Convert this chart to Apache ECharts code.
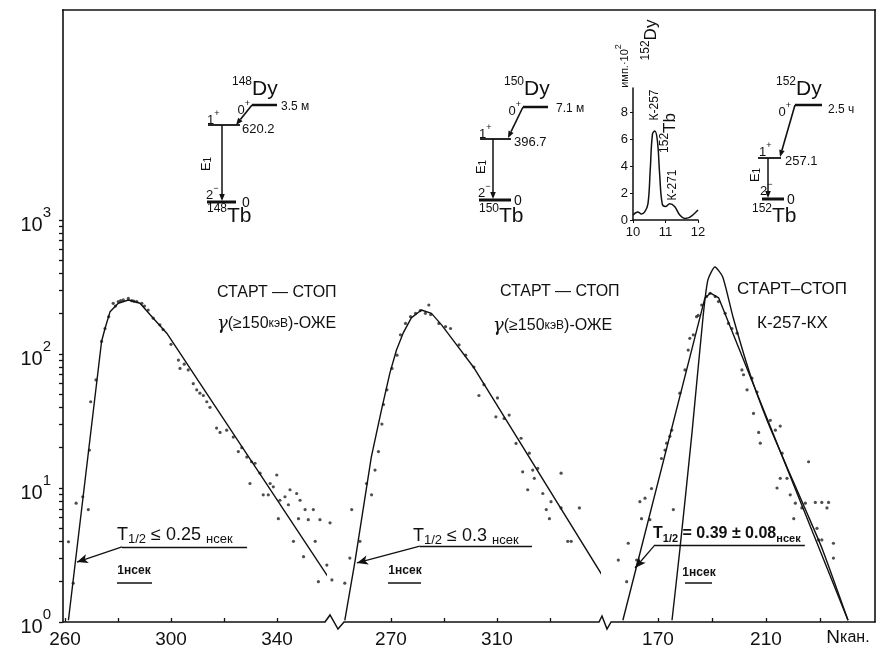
<!DOCTYPE html>
<html><head><meta charset="utf-8">
<script src="https://cdn.jsdelivr.net/npm/echarts@6/dist/echarts.min.js"></script>
<style>html,body{margin:0;padding:0;background:#fff}#c{width:884px;height:650px}</style>
</head><body><div id="c"></div>
<script>
// ---------- data ----------
const yTickValues = [1,2,3,4,5,6,7,8,9,10,20,30,40,50,60,70,80,90,100,200,300,400,500,600,700,800,900,1000];
const yLabelValues = [1,10,100,1000];
const p1TickValues = [260,280,300,320,340];
const p1LabelValues = [260,300,340];
const p2TickValues = [270,290,310,330];
const p2LabelValues = [270,310];
const p3TickValues = [170,190,210,230];
const p3LabelValues = [170,210];
const insetXValues = [10,11,12];
const insetYValues = [0,2,4,6,8];

const p1Fit = [[261.3,1.03],[273.8,124],[275.1,155],[277,207],[280.1,239],[283.9,253],[288.3,239],[293.3,185],[298.4,143],[360,2.06]];
const p1Dots = [[263.1,1.95],[261.3,3.97],[264.2,7.7],[266.7,8.6],[268.8,6.9],[269.2,19.2],[269.7,44],[271.7,64],[273.8,124],[275.1,155],[276.5,190],[278.2,239],[279,228],[280.1,246],[281,250],[282,253],[283.9,260],[285.2,250],[286,248],[287.1,246],[289,239],[290,228],[291.4,213],[293.3,185],[295.8,165],[297,152],[300,118],[302.8,90],[303.4,78],[305,84],[306.5,76],[308.4,60],[309.7,54],[310.9,51],[312.2,49],[313.5,44],[314.7,40],[317.2,28],[318.5,26],[321,27],[323.5,24],[325.4,18.7],[326.7,20],[328.6,17],[330.4,15.7],[331.7,15.3],[329.8,10.8],[333.6,12.9],[334.8,8.9],[336.7,8.9],[337.4,10.8],[339.9,12.5],[338.6,10.2],[341.1,8.1],[343,8.6],[344.9,9.7],[347.4,9.1],[348.7,8.1],[340.5,5.9],[344.3,7.5],[348.1,5.9],[350.6,6.9],[351.8,5.8],[353.7,6.9],[356.2,5.8],[360,5.5],[346.2,4.0],[350,3.07],[354.4,4.0],[355.6,2.0],[358.8,2.66],[360.7,2.06]];

const p2Fit = [[252.6,1.03],[256.4,2.8],[259.5,6.9],[262.6,17],[266.4,38],[269.6,72],[272.1,107],[274.6,143],[277.7,186],[281.5,213],[285.3,201],[289.1,165],[294.8,117],[301.1,80],[350.8,2.06]];
const p2Dots = [[252.6,1.95],[255.2,6.9],[254.5,3.0],[258.3,4.0],[260.8,10.8],[262.7,8.9],[264,13.6],[265.3,18.7],[266.6,30],[267.2,42],[268.5,54],[270.4,78],[272.3,98],[273.6,139],[275.5,169],[277.4,190],[279.3,201],[281.1,211],[283,201],[284.3,232],[285,197],[288.1,169],[290.6,160],[292.5,155],[295.7,117],[298.2,98],[301.3,80],[303.2,49],[305.1,59],[310.2,47],[309.6,34],[312.7,33],[314.6,35],[317.2,21.5],[319.1,23.5],[321.6,9.7],[319.7,13.2],[322.2,18.2],[323.5,13.6],[324.1,11.8],[325.4,14],[327.3,9.1],[328.6,6.9],[329.8,5.9],[330.4,7.9],[334.2,12.9],[334.2,7.1],[341.1,7.1],[336.7,4.0],[338,4.0]];

const p3FitA = [[157,1.03],[187.4,262],[189.5,285],[192.5,262],[240.4,1.03]];
const p3FitB = [[175.2,1.03],[178.1,3.45],[182.6,25.8],[186.7,189],[188.5,357],[191.1,446],[194,376],[197.8,189],[204,72],[210.4,32],[217.8,14.3],[225.2,6.5],[231,3.45],[240.4,1.03]];
const p3Dots = [[159,3.87],[155.3,2.9],[158.4,2.0],[162.1,2.9],[167,5.8],[163.3,7.9],[165.2,8.4],[163.9,5.9],[167.6,9.9],[171.3,16.6],[172.6,19.2],[173.2,21.6],[174.4,24.3],[175.1,27],[175.7,6.9],[178.1,51],[180,76],[181.2,107],[181.8,131],[183.1,139],[184.3,190],[184.9,194],[186.2,232],[188,268],[189.3,284],[191.2,268],[192.4,246],[194.9,201],[196.1,169],[197.4,155],[199.3,143],[201.1,76],[201.7,70],[203,54],[204.8,66],[205.4,36],[206.7,52],[207.3,26],[207.9,21.6],[211.6,32],[213.5,27],[215.3,29],[216,18.2],[215.3,11.8],[214.1,10],[217.8,11.8],[219,8.9],[220.9,7.7],[220.3,5.9],[223.3,7.1],[225.8,15.7],[224.6,7.7],[228.3,7.8],[230.7,7.8],[233.2,7.8],[232.6,7.1],[229.5,4.1],[230.7,4.1],[235,3.87],[235,3.0],[228.9,5.0]];

const insetSpectrum = [[10.0,0.37],[10.15,0.6],[10.26,0.45],[10.36,0.6],[10.46,1.2],[10.53,3.7],[10.6,6.4],[10.67,6.6],[10.75,5.9],[10.82,3.4],[10.9,1.2],[11.0,1.0],[11.13,1.2],[11.28,1.0],[11.44,0.37],[11.59,0.12],[11.74,0.2],[11.9,0.5],[12.0,0.74]];

const p1Arrow = [[264.5,2.8],[281.5,3.63],[328.7,3.63]];
const p2Arrow = [[257.2,2.76],[280.9,3.69],[323.2,3.69]];
const p3Arrow = [[161.5,2.53],[168.9,3.76],[224.4,3.76]];

// ---------- helpers ----------
const FONT = '"Liberation Sans", Arial, sans-serif';
const INK = '#111';
const YMAX = 36900;

function ln(x1,y1,x2,y2,w){return {type:'line',silent:true,z:50,shape:{x1,y1,x2,y2},style:{stroke:INK,lineWidth:w||1.5}};}
function arrow(x1,y1,x2,y2,w){
  const dx=x2-x1, dy=y2-y1, L=Math.hypot(dx,dy), ux=dx/L, uy=dy/L, s=7, h=2.8;
  const bx=x2-ux*s, by=y2-uy*s;
  return [ln(x1,y1,bx,by,w),{type:'polygon',silent:true,z:50,shape:{points:[[x2,y2],[bx-uy*h,by+ux*h],[bx+uy*h,by-ux*h]]},style:{fill:INK}}];
}
const richBase = {
  b:{fontFamily:FONT,fontSize:13,color:INK,lineHeight:18,verticalAlign:'bottom'},
  s:{fontFamily:FONT,fontSize:9,color:INK,verticalAlign:'top'},
  big:{fontFamily:FONT,fontSize:21,color:INK,lineHeight:24,verticalAlign:'bottom'},
  iso:{fontFamily:FONT,fontSize:12,color:INK,verticalAlign:'top'},
  sub:{fontFamily:FONT,fontSize:10,color:INK,verticalAlign:'bottom'}
};
function txt(x,y,text,o){
  o=o||{};
  return {type:'text',silent:true,z:50,x:x,y:y,rotation:o.rot||0,style:{text:text,rich:o.rich||richBase,
    font:(o.weight||'normal')+' '+(o.size||13)+'px '+FONT,fill:INK,align:o.align||'left',verticalAlign:o.va||'middle'}};
}
function scheme(c){
  const g=[];
  g.push(txt(c.isoX,c.isoY,'{iso|'+c.A+'}{big|Dy}'));
  g.push(txt(c.z0x,c.z0y,'{b|0}{s|+}',{align:'right'}));
  g.push(ln(c.l0[0],c.l0[1],c.l0[2],c.l0[1],2.5));
  g.push(txt(c.tx,c.ty,c.T,{size:12}));
  g.push(...arrow(c.l0[0],c.l0[1],c.d[0],c.d[1],1.6));
  g.push(ln(c.l1[0],c.l1[1],c.l1[2],c.l1[1],1.8));
  g.push(txt(c.s1x,c.s1y,'{b|1}{s|+}'));
  g.push(txt(c.ex,c.ey,c.E,{size:13}));
  g.push(...arrow(c.vx,c.l1[1],c.vx,c.g[1]-1,1.5));
  g.push(txt(c.e1x,c.e1y,'{b|E}{sub|1}',{rot:Math.PI/2,align:'center'}));
  g.push(txt(c.s2x,c.s2y,'{b|2}{s|−}'));
  g.push(ln(c.g[0],c.g[1],c.g[2],c.g[1],3));
  g.push(txt(c.g0x,c.g[1]+1,'0',{size:14}));
  g.push(txt(c.tbx,c.tby,'{iso|'+c.A+'}{big|Tb}'));
  return g;
}

// ---------- graphic ----------
let graphic = [];
graphic.push(ln(62,10,876,10,1.6));
graphic.push({type:'polyline',silent:true,z:50,shape:{points:[[325,622],[330,615],[338,629],[344,622]]},style:{stroke:INK,lineWidth:1.5,fill:null}});
graphic.push({type:'polyline',silent:true,z:50,shape:{points:[[599,622],[602,616],[607,629],[611,622]]},style:{stroke:INK,lineWidth:1.5,fill:null}});

const gammaRich = {
  g:{fontFamily:'"DejaVu Serif", serif',fontStyle:'italic',fontSize:18,color:INK},
  n:{fontFamily:FONT,fontSize:16,color:INK},
  k:{fontFamily:FONT,fontSize:12,color:INK}
};
graphic.push(txt(217,293,'СТАРТ — СТОП',{size:16}));
graphic.push(txt(217,324,'{g|γ}{n|(≥150}{k|кэВ}{n|)-ОЖЕ}',{rich:gammaRich}));
graphic.push(txt(500,292,'СТАРТ — СТОП',{size:16}));
graphic.push(txt(493,326,'{g|γ}{n|(≥150}{k|кэВ}{n|)-ОЖЕ}',{rich:gammaRich}));
graphic.push(txt(737,289,'СТАРТ–СТОП',{size:17}));
graphic.push(txt(757,323,'К-257-КХ',{size:17}));

function tRich(sz,w){return {
  t:{fontFamily:FONT,fontSize:sz,fontWeight:w,color:INK,lineHeight:sz+2,verticalAlign:'top'},
  h:{fontFamily:FONT,fontSize:sz-5,fontWeight:w,color:INK,lineHeight:sz-5,verticalAlign:'bottom'},
  u:{fontFamily:FONT,fontSize:sz-5,fontWeight:w,color:INK,lineHeight:sz-3,verticalAlign:'bottom'}
};}
graphic.push(txt(117,536,'{t|T}{h|1/2}{t| ≤ 0.25 }{u|нсек}',{rich:tRich(18,'normal')}));
graphic.push(txt(413,537,'{t|T}{h|1/2}{t| ≤ 0.3 }{u|нсек}',{rich:tRich(18,'normal')}));
graphic.push(txt(653,535,'{t|T}{h|1/2}{t| = 0.39 ± 0.08}{u|нсек}',{rich:tRich(16,'bold')}));

graphic.push(txt(134,571,'1нсек',{size:12,align:'center',weight:'bold'}));
graphic.push(ln(117,583,152,583,1.5));
graphic.push(txt(405,571,'1нсек',{size:12,align:'center',weight:'bold'}));
graphic.push(ln(388,583,421,583,1.5));
graphic.push(txt(699,573,'1нсек',{size:12,align:'center',weight:'bold'}));
graphic.push(ln(685,583,712,583,1.5));

graphic.push(txt(848,638,'{n|N}{k|кан.}',{align:'center',rich:{n:{fontFamily:FONT,fontSize:19,color:INK},k:{fontFamily:FONT,fontSize:16,color:INK}}}));

graphic = graphic.concat(scheme({A:'148',isoX:232,isoY:88,z0x:250,z0y:108,l0:[252,105,277,0],T:'3.5 м',tx:281,ty:107,d:[236,125],
  l1:[208,125,240],s1x:207,s1y:118,E:'620.2',ex:242,ey:129,vx:222,e1x:204,e1y:164,s2x:206,s2y:193,g:[207,202,236],g0x:242,tbx:207,tby:215}));
graphic = graphic.concat(scheme({A:'150',isoX:504,isoY:88,z0x:521,z0y:109,l0:[523,107,548,0],T:'7.1 м',tx:556,ty:109,d:[508,138],
  l1:[480,139,511],s1x:479,s1y:132,E:'396.7',ex:514,ey:142,vx:493,e1x:479,e1y:167,s2x:478,s2y:191,g:[479,200,511],g0x:514,tbx:479,tby:215}));
graphic = graphic.concat(scheme({A:'152',isoX:776,isoY:88,z0x:791,z0y:110,l0:[795,105,822,0],T:'2.5 ч',tx:828,ty:110,d:[780,157],
  l1:[758,158,781],s1x:759,s1y:150,E:'257.1',ex:785,ey:161,vx:768,e1x:753,e1y:175,s2x:760,s2y:189,g:[762,199,784],g0x:787,tbx:752,tby:215}));

// inset texts
graphic.push(txt(622,66,'{b|имп.·10}{s|2}',{rot:Math.PI/2,align:'center',rich:{b:{fontFamily:FONT,fontSize:11,color:INK,lineHeight:16,verticalAlign:'bottom'},s:{fontFamily:FONT,fontSize:9,color:INK,verticalAlign:'top'}}}));
graphic.push(txt(650,40,'{iso|152}{big|Dy}',{rot:Math.PI/2,align:'center',rich:{iso:{fontFamily:FONT,fontSize:12,color:INK,verticalAlign:'top'},big:{fontFamily:FONT,fontSize:17,color:INK,lineHeight:20,verticalAlign:'bottom'}}}));
graphic.push(txt(655,105,'К-257',{rot:Math.PI/2,align:'center',size:12}));
graphic.push(txt(669,133,'{iso|152}{big|Tb}',{rot:Math.PI/2,align:'center',rich:{iso:{fontFamily:FONT,fontSize:12,color:INK,verticalAlign:'top'},big:{fontFamily:FONT,fontSize:17,color:INK,lineHeight:20,verticalAlign:'bottom'}}}));
graphic.push(txt(673,185,'К-271',{rot:Math.PI/2,align:'center',size:12}));

// ---------- axes ----------
function xAx(idx,min,max,ticks,labels){
  return {gridIndex:idx,type:'value',min:min,max:max,
    axisLine:{show:true,lineStyle:{color:INK,width:1.5}},
    axisTick:{show:true,inside:true,length:4,customValues:ticks,lineStyle:{color:INK,width:1.3}},
    axisLabel:{customValues:labels,fontSize:19,fontFamily:FONT,color:INK,margin:8},
    splitLine:{show:false}};
}
function mkArrow(a){
  return {silent:true,animation:false,symbol:['none','none'],lineStyle:{color:INK,width:1.3,type:'solid'},label:{show:false},emphasis:{disabled:true},
    data:[[{coord:a[1],symbol:'none'},{coord:a[0],symbol:'arrow',symbolSize:[7,11]}],
          [{coord:a[1],symbol:'none'},{coord:a[2],symbol:'none'}]]};
}
const lineStyle={color:INK,width:1.4};
const dotStyle={color:'#222'};

const option = {
  animation:false,
  backgroundColor:'#fff',
  grid:[
    {left:63,top:10,width:262,bottom:28},
    {left:344,top:10,width:255,bottom:28},
    {left:611,top:10,width:264,bottom:28},
    {left:633,top:88,width:65,height:132}
  ],
  xAxis:[
    xAx(0,259.25,358.1,p1TickValues,p1LabelValues),
    xAx(1,252.3,348.5,p2TickValues,p2LabelValues),
    xAx(2,152.6,250.4,p3TickValues,p3LabelValues),
    {gridIndex:3,type:'value',min:10,max:12,axisLine:{lineStyle:{color:INK,width:1.5}},
     axisTick:{customValues:insetXValues,length:3,lineStyle:{color:INK}},
     axisLabel:{customValues:insetXValues,fontSize:13,fontFamily:FONT,color:INK,margin:6},splitLine:{show:false}}
  ],
  yAxis:[
    {gridIndex:0,type:'log',logBase:10,min:1,max:YMAX,
     axisLine:{show:true,lineStyle:{color:INK,width:1.6}},
     axisTick:{show:true,inside:false,length:4,customValues:yTickValues,lineStyle:{color:INK,width:1.3}},
     axisLabel:{customValues:yLabelValues,margin:12,
       formatter:function(v){return '{b|10}{s|'+Math.round(Math.log10(v))+'}';},
       rich:{b:{fontSize:20,fontFamily:FONT,color:INK,lineHeight:30,verticalAlign:'bottom'},
             s:{fontSize:15,fontFamily:FONT,color:INK,verticalAlign:'top'}}},
     splitLine:{show:false}},
    {gridIndex:1,type:'log',logBase:10,min:1,max:YMAX,show:false},
    {gridIndex:2,type:'log',logBase:10,min:1,max:YMAX,position:'right',
     axisLine:{show:true,lineStyle:{color:INK,width:1.6}},axisTick:{show:false},axisLabel:{show:false},splitLine:{show:false}},
    {gridIndex:3,type:'value',min:0,max:9.8,axisLine:{show:true,lineStyle:{color:INK,width:1.5}},
     axisTick:{show:true,customValues:insetYValues,length:3,lineStyle:{color:INK}},
     axisLabel:{customValues:insetYValues,fontSize:13,fontFamily:FONT,color:INK,margin:5},splitLine:{show:false}}
  ],
  series:[
    {type:'line',xAxisIndex:0,yAxisIndex:0,data:p1Fit,showSymbol:false,clip:false,lineStyle:lineStyle,markLine:mkArrow(p1Arrow)},
    {type:'scatter',xAxisIndex:0,yAxisIndex:0,data:p1Dots,symbolSize:3.2,clip:false,itemStyle:dotStyle},
    {type:'line',xAxisIndex:1,yAxisIndex:1,data:p2Fit,showSymbol:false,clip:false,lineStyle:lineStyle,markLine:mkArrow(p2Arrow)},
    {type:'scatter',xAxisIndex:1,yAxisIndex:1,data:p2Dots,symbolSize:3.2,clip:false,itemStyle:dotStyle},
    {type:'line',xAxisIndex:2,yAxisIndex:2,data:p3FitA,showSymbol:false,clip:false,lineStyle:lineStyle,markLine:mkArrow(p3Arrow)},
    {type:'line',xAxisIndex:2,yAxisIndex:2,data:p3FitB,showSymbol:false,clip:false,smooth:0.2,lineStyle:lineStyle},
    {type:'scatter',xAxisIndex:2,yAxisIndex:2,data:p3Dots,symbolSize:3.2,clip:false,itemStyle:dotStyle},
    {type:'line',xAxisIndex:3,yAxisIndex:3,data:insetSpectrum,showSymbol:false,smooth:0.4,lineStyle:{color:INK,width:1.5}}
  ],
  graphic:graphic
};
const chart = echarts.init(document.getElementById('c'),null,{renderer:'canvas'});
chart.setOption(option);
</script></body></html>
